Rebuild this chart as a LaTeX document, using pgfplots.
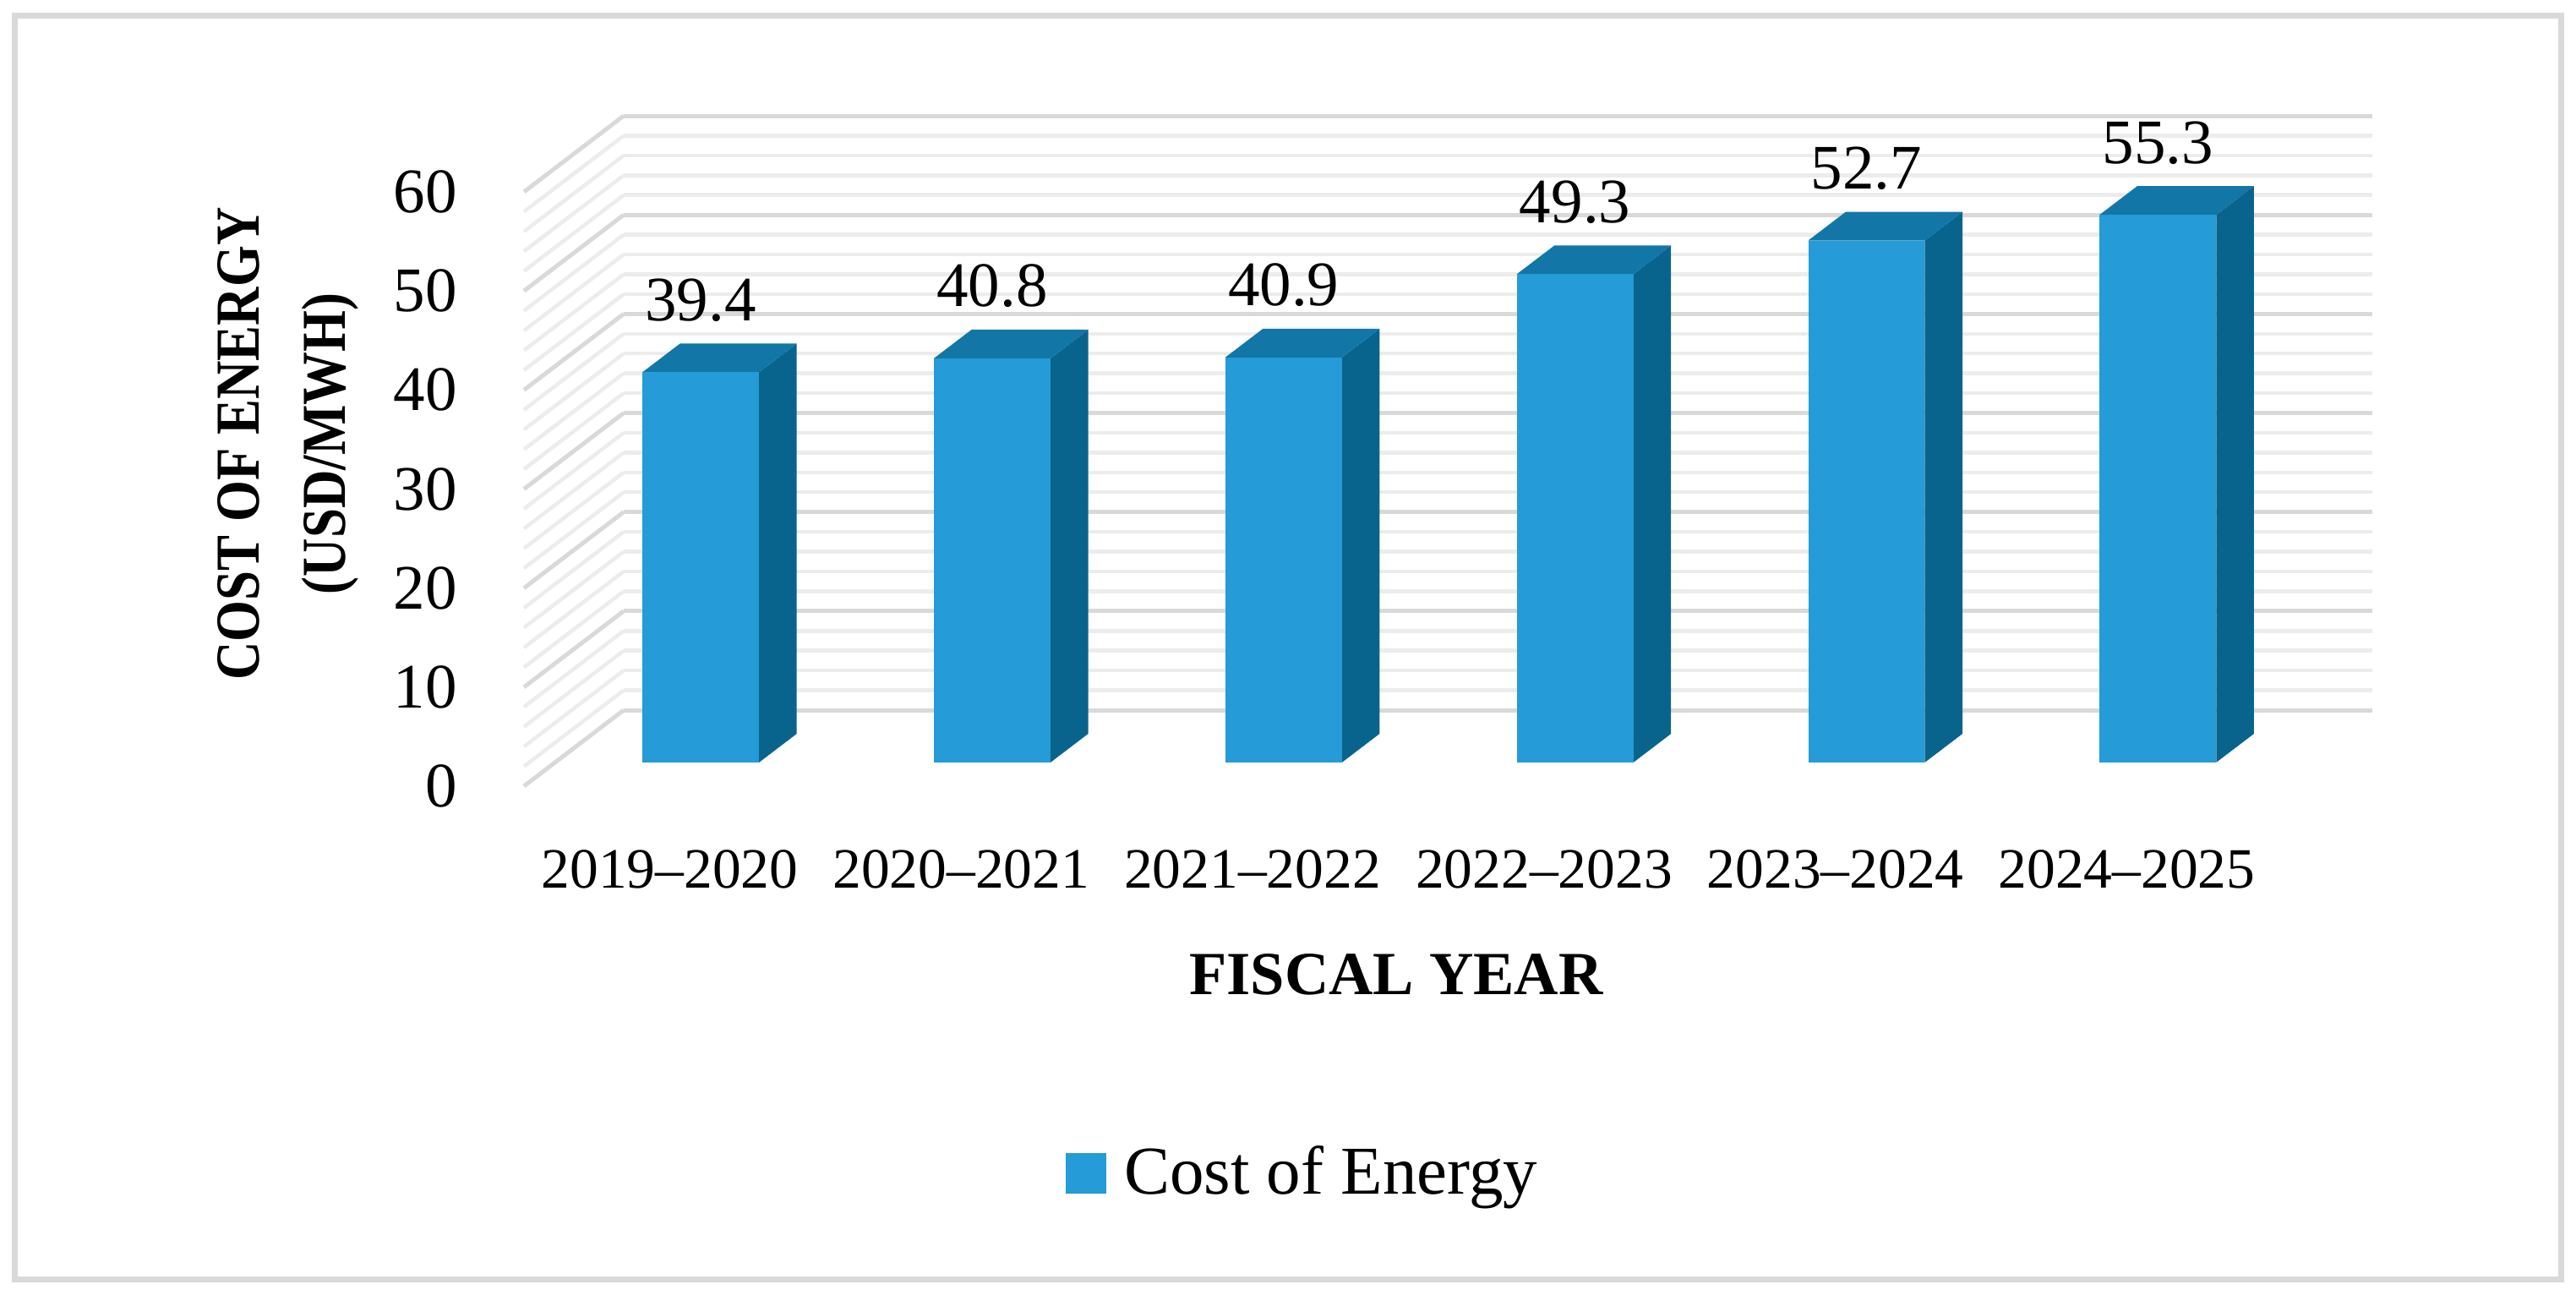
\documentclass[border=0pt]{standalone}
\usepackage{fontspec}
\setmainfont{Liberation Serif}
\usepackage{pgfplots}
\pgfplotsset{compat=1.18}

\definecolor{barfront}{RGB}{37,155,215}
\definecolor{bartop}{RGB}{18,119,166}
\definecolor{barside}{RGB}{9,100,141}
\definecolor{majgrid}{RGB}{217,217,217}
\definecolor{mingrid}{RGB}{236,236,236}
\definecolor{framecol}{RGB}{217,217,217}

% depth of the pseudo-3D box, in axis units
% front face at (-0.2358,-5.29), back face at (-0.1064,-2.39), floor edge at (-0.3422,-7.68)
\pgfplotsset{
  vallabel/.style={every node near coord/.style={anchor=base, inner sep=0pt, yshift=5.4pt,
      font=\fontsize{15}{18}\selectfont, text=black}},
}

\newcommand\cube[2]{%
  \pgfmathsetmacro\xa{#1-0.2-0.2358}%
  \pgfmathsetmacro\xb{#1+0.2-0.2358}%
  \pgfmathsetmacro\xc{#1-0.2-0.1064}%
  \pgfmathsetmacro\xd{#1+0.2-0.1064}%
  \pgfmathsetmacro\xm{#1-0.2358}%
  \pgfmathsetmacro\ya{#2-5.29}%
  \pgfmathsetmacro\yb{#2-2.39}%
  \edef\tmp{%
    \noexpand\addplot[fill=barside, draw=none, forget plot] coordinates {(\xb,-5.29) (\xd,-2.39) (\xd,\yb) (\xb,\ya)};
    \noexpand\addplot[fill=bartop, draw=none, forget plot] coordinates {(\xa,\ya) (\xc,\yb) (\xd,\yb) (\xb,\ya)};
    \noexpand\addplot[fill=barfront, draw=none, forget plot] coordinates {(\xa,-5.29) (\xa,\ya) (\xb,\ya) (\xb,-5.29)};
    \noexpand\addplot[draw=none, mark=none, forget plot, vallabel, nodes near coords={#2}] coordinates {(\xm,\yb)};
  }\tmp
}

\begin{document}
\begin{tikzpicture}
\begin{axis}[
  at={(0pt,0pt)}, anchor=south west,
  scale only axis, width=413.8pt, height=140.6pt,
  xmin=-0.5, xmax=5.5, ymin=0, ymax=60,
  clip=false,
  axis line style={draw=none},
  tick style={draw=none},
  ytick={0,10,...,60},
  yticklabels={0,10,20,30,40,50,60},
  minor y tick num=4,
  ymajorgrids, yminorgrids,
  major grid style={draw=majgrid, line width=1pt},
  minor grid style={draw=mingrid, line width=0.9pt},
  xtick={0,...,5},
  xticklabels={2019--2020,2020--2021,2021--2022,2022--2023,2023--2024,2024--2025},
  xticklabel style={font=\fontsize{13.5}{16}\selectfont, anchor=base, inner sep=0pt,
      xshift=-23.6pt, yshift=-42pt},
  yticklabel style={font=\fontsize{15}{18}\selectfont, anchor=east, inner sep=0pt,
      xshift=-39.2pt, yshift=-18pt},
  legend style={draw=none, fill=none, at={(axis description cs:0.2523,-0.7795)},
      anchor=west, inner sep=0pt, font=\fontsize{16.2}{18}\selectfont,
      nodes={inner xsep=4.2pt}},
  legend cell align=left,
]
% side wall of the grid
\pgfplotsforeachungrouped \v in {0,2,...,60}{%
  \pgfmathsetmacro\vf{\v-7.68}%
  \ifnum\numexpr\v-10*(\v/10)\relax=0 \def\gs{majgrid}\def\gw{1pt}\else\def\gs{mingrid}\def\gw{0.9pt}\fi
  \edef\tmp{\noexpand\addplot[draw=\gs, line width=\gw, forget plot] coordinates {(-0.8422,\vf) (-0.5,\v)};}\tmp
}

\cube{0}{39.4}
\cube{1}{40.8}
\cube{2}{40.9}
\cube{3}{49.3}
\cube{4}{52.7}
\cube{5}{55.3}

\addlegendimage{legend image code/.code={\fill[barfront] (0pt,-4.6pt) rectangle (9.2pt,4.6pt);}}
\addlegendentry{Cost of Energy}
\end{axis}

\node[font=\bfseries\fontsize{14.8}{20.4}\selectfont, rotate=90, align=center] at (-79.4pt,63pt)
  {\scalebox{0.85}[1]{COST OF ENERGY}\\\scalebox{0.85}[1]{(USD/MWH)}};
\node[font=\bfseries\fontsize{14.5}{18}\selectfont] at (182.8pt,-62.6pt) {FISCAL YEAR};

\draw[framecol, line width=1.4pt] (-144.1pt,-134.7pt) rectangle (458.4pt,164.2pt);
\path[use as bounding box] (-147.6pt,-139.6pt) rectangle (462pt,168pt);
\end{tikzpicture}
\end{document}
